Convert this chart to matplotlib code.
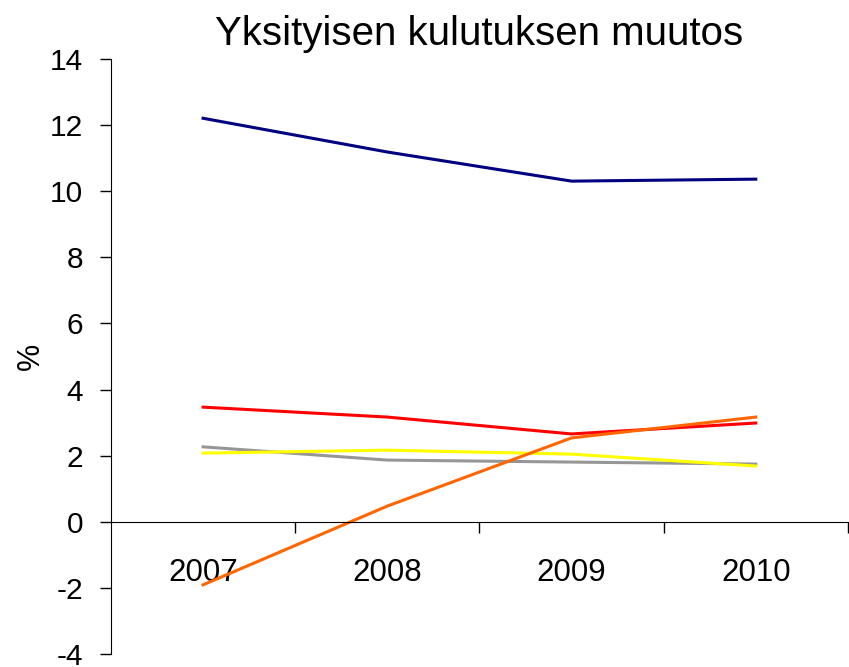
import matplotlib.pyplot as plt

plt.rcParams['font.family'] = ['Liberation Sans', 'DejaVu Sans']

years = ["2007", "2008", "2009", "2010"]
navy = [12.2, 11.18, 10.3, 10.36]
red = [3.47, 3.17, 2.66, 2.99]
gray = [2.27, 1.87, 1.81, 1.75]
yellow = [2.08, 2.17, 2.05, 1.69]
orange = [-1.9, 0.48, 2.54, 3.17]

fig = plt.figure(figsize=(8.49, 6.67), dpi=100)
ax = fig.add_axes([0.1307, 0.019, 0.868, 0.893])

x = range(len(years))
ax.plot(x, navy, color='#000080', lw=2.2)
ax.plot(x, red, color='#ff0000', lw=2.2)
ax.plot(x, gray, color='#969696', lw=2.2)
ax.plot(x, yellow, color='#ffff00', lw=2.2)
ax.plot(x, orange, color='#ff6600', lw=2.2)

ax.set_xlim(-0.5, 3.5)
ax.set_ylim(-4, 14)
ax.set_yticks(range(-4, 15, 2))
ax.set_yticklabels([str(v) for v in range(-4, 15, 2)])

# category labels on minor ticks, boundary ticks on major ones
ax.set_xticks([i + 0.5 for i in x])
ax.set_xticklabels([])
ax.set_xticks(list(x), minor=True)
ax.set_xticklabels(years, minor=True)
ax.tick_params(axis='x', which='minor', length=0, pad=26, labelsize=22.5)
ax.tick_params(axis='x', which='major', length=8, direction='out', width=1)
ax.tick_params(axis='y', length=8, direction='out', width=1, labelsize=21.5, pad=12)

ax.spines['top'].set_visible(False)
ax.spines['right'].set_visible(False)
ax.spines['bottom'].set_position(('data', 0))

ax.set_ylabel("%", fontsize=22, labelpad=3)
ax.set_title("Yksityisen kulutuksen muutos", fontsize=29, pad=10)

fig.savefig("out.png", dpi=100)
